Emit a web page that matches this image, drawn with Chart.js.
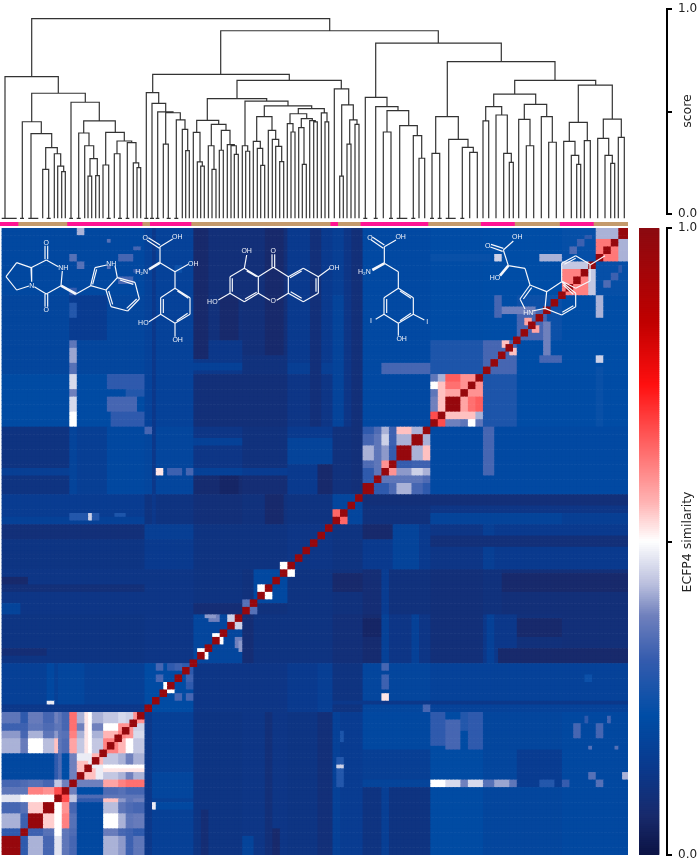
<!DOCTYPE html>
<html>
<head>
<meta charset="utf-8">
<style>
  html, body { margin: 0; padding: 0; background: #fff; }
  #page { position: relative; width: 699px; height: 864px; overflow: hidden; }
  canvas { display: block; filter: blur(0.3px); }
</style>
<script src="https://cdn.jsdelivr.net/npm/chart.js@4"></script>
</head>
<body>
<div id="page">
  <div style="position:absolute;left:0px;top:0px"><canvas id="dendroChart" width="628" height="219"></canvas></div>
  <div style="position:absolute;left:0px;top:222px"><canvas id="stripChart" width="628" height="4"></canvas></div>
  <div style="position:absolute;left:0px;top:228px"><canvas id="heatChart" width="628" height="627"></canvas></div>
  <div style="position:absolute;left:639px;top:0px"><canvas id="scoreAxis" width="60" height="225"></canvas></div>
  <div style="position:absolute;left:639px;top:219px"><canvas id="colorbar" width="60" height="645"></canvas></div>
</div>
<script>
// ---- data ----
const leafCount = 167;
const LEAF = -0.021; // leaves hang a little under score 0

// [left x, right x, height, left child height, right child height], x along the heatmap width
const dendroLinks = [
  [31.7,329.7,.953,.670,.894],[220.7,438.3,.894,.681,.834],
  [5,58.3,.670,LEAF,.589],[31.7,85.3,.589,.450,.545],[22.3,41.3,.450,LEAF,.392],[31,51.7,.392,LEAF,.324],
  [45.7,57.3,.324,.218,.294],[42.7,48.7,.218,LEAF,LEAF],[54.3,60.7,.294,LEAF,.234],[57.7,63.7,.234,LEAF,.207],
  [61.7,65.3,.207,LEAF,LEAF],[71,99.3,.545,LEAF,.454],[83.7,115.3,.454,.395,.398],[78.7,89,.395,LEAF,.333],
  [84.7,93.7,.333,LEAF,.270],[90,97.3,.270,.185,.187],[88,91.7,.185,LEAF,LEAF],[95.7,99.3,.187,LEAF,LEAF],
  [105.7,124.3,.398,.239,.356],[103,108.7,.239,LEAF,LEAF],[117,131.7,.356,.294,.348],[114.3,120,.294,LEAF,LEAF],
  [127.3,136,.348,LEAF,.249],[133.3,138.7,.249,LEAF,.226],[137,140.7,.226,LEAF,LEAF],
  [152.7,289.3,.681,.592,.652],[146.3,158.7,.592,LEAF,.540],[152,165.7,.540,LEAF,.498],[157.7,173,.498,LEAF,.494],
  [165.7,180.3,.494,.341,.459],[163.3,168.3,.341,LEAF,LEAF],[176.3,185,.459,LEAF,.413],[182.3,187.7,.413,LEAF,.309],
  [185.7,189.3,.309,LEAF,LEAF],[237,341.3,.652,.563,.610],[207.3,266.7,.563,.457,.551],[196.7,218.7,.457,.398,.437],
  [193.3,200,.398,LEAF,.254],[197.3,202.3,.254,LEAF,.234],[200.7,204.3,.234,LEAF,LEAF],[211.3,226,.437,.333,.408],
  [208.3,214,.333,LEAF,.218],[212,216,.218,LEAF,LEAF],[221.3,230,.408,.311,.338],[219.3,223.3,.311,LEAF,LEAF],
  [227.3,234.3,.338,LEAF,.333],[231,236.3,.333,LEAF,.291],[234.3,238.3,.291,LEAF,LEAF],[245,288,.551,.333,.527],
  [242.3,247.7,.333,LEAF,.306],[245.7,249.7,.306,LEAF,LEAF],[264.3,311.7,.527,.475,.514],[256.7,272,.475,.354,.408],
  [253.3,260.3,.354,LEAF,.320],[257.3,262.7,.320,LEAF,.237],[260.7,264.7,.237,LEAF,LEAF],[268.3,275.7,.408,LEAF,.364],
  [272.3,278.7,.364,LEAF,.330],[275.7,281.7,.330,LEAF,.255],[279.7,283.7,.255,LEAF,LEAF],[298.3,324.3,.514,.489,.493],
  [290,306.7,.489,.441,.465],[287.3,293,.441,LEAF,.400],[291,295,.400,LEAF,LEAF],[301.3,312.3,.465,.421,.455],
  [298.7,304,.421,LEAF,.242],[302.3,306.3,.242,LEAF,LEAF],[309.7,315.3,.455,LEAF,.449],[313.7,317.3,.449,LEAF,LEAF],
  [321.3,327,.493,LEAF,.449],[325,328.7,.449,LEAF,LEAF],[334.3,348.7,.610,LEAF,.532],[341.7,353.3,.532,.185,.459],
  [339.7,343.3,.185,LEAF,LEAF],[349.7,357,.459,.341,.437],[347,351,.341,LEAF,LEAF],[355,359,.437,LEAF,LEAF],
  [375.7,501.3,.834,.569,.743],[365.3,387,.569,LEAF,.524],[375.7,398,.524,LEAF,.504],[387,408.7,.504,.400,.431],
  [383.3,391,.400,LEAF,LEAF],[399.7,417.3,.431,LEAF,.382],[413.3,421.7,.382,LEAF,.272],[419,424.7,.272,LEAF,LEAF],
  [447.3,555,.743,.475,.652],[435.7,458.3,.475,.296,.364],[432,439.7,.296,LEAF,LEAF],[448.7,468,.364,LEAF,.325],
  [462.3,473.3,.325,LEAF,.301],[469.7,477.3,.301,LEAF,LEAF],[514.7,595.7,.652,.585,.629],[493.7,535.7,.585,.524,.535],
  [485.7,501.7,.524,.454,.483],[483,488.7,.454,LEAF,LEAF],[496,507.3,.483,LEAF,.296],[503.7,511.3,.296,LEAF,.252],
  [509.3,513.3,.252,LEAF,LEAF],[524.3,546.7,.535,.462,.475],[518.7,530,.462,LEAF,.333],[526.3,533.7,.333,LEAF,LEAF],
  [541.3,552.3,.475,LEAF,.350],[548.7,556.3,.350,LEAF,LEAF],[578.3,612.3,.629,.447,.463],[569.3,587.3,.447,.354,.358],
  [563.7,575,.354,LEAF,.286],[571.3,578.7,.286,LEAF,.242],[576.7,580.7,.242,LEAF,LEAF],[584.3,590.3,.358,LEAF,LEAF],
  [603.3,621.3,.463,.369,.374],[597.7,608.7,.369,LEAF,.286],[605,612.3,.286,LEAF,.247],[610.7,614.7,.247,LEAF,LEAF],
  [618.3,624.3,.374,LEAF,LEAF]
];
// groups that merge at zero height, seen as flat feet under the tree
const flatFeet = [
  [1.7,16.7],[20,24],[28.3,38.3],[46.7,50.7],[69.3,73],[76.7,80.7],[106.7,110.7],[118,122],[125.7,129.3],
  [144.3,148.3],[150,154],[155.7,159.3],[166.7,170.7],[174.3,178.3],[363.3,367.3],[373.7,377.7],[389,393],
  [396.7,407.3],[411.3,415.3],[430,434],[437.7,441.7],[445.7,455.7],[460.3,464.3]
];

// class strip along the leaves: [first leaf, end leaf, class]
const classRuns = [[0,5,0],[5,18,1],[18,38,0],[38,40,1],[40,51,0],[51,88,1],[88,90,0],[90,96,1],
  [96,114,0],[114,128,1],[128,137,0],[137,149,1],[149,158,0],[158,167,1]];
const classColors = ['#ff1493', '#c49a6c'];

// similarity is symmetric: [col from, col to, row from, row to, value], rows counted from the bottom
const simBackground = 0.12;
const simBlocks = [
  // bottom cluster against all the others
  [38,40,0,38,.13],[40,51,0,38,.165],[40,51,15,22,.19],[41,51,12,14,.2],[40,41,12,14,.48],
  [51,64,0,38,.115],[64,76,0,38,.12],[64,67,0,5,.18],[76,84,0,38,.115],[84,88,0,38,.09],
  [88,90,0,38,.17],[90,96,0,38,.15],[89,91,18,26,.28],[89,91,23,24,.45],[90,91,30,33,.27],
  [96,114,28,38,.2],[96,114,19,28,.16],[96,114,0,19,.11],[101,103,0,28,.16],[96,114,18,20,.18],
  [114,128,0,38,.21],[128,149,0,38,.19],[137,149,18,28,.15],[149,167,0,38,.2],
  [114,118,29,38,.3],[118,122,28,36,.33],[122,124,33,38,.28],[124,128,28,38,.3],
  [114,118,18,20,.5],[118,122,18,20,.46],[122,124,18,20,.38],[124,128,18,20,.46],[128,131,18,20,.35],
  [131,135,18,20,.41],[135,137,18,20,.36],[143,147,18,20,.28],[149,151,18,20,.31],
  [152,154,31,35,.33],[155,156,35,37,.3],[158,160,31,35,.33],[161,162,35,37,.33],[156,157,28,29,.35],[163,164,28,29,.35],
  [156,158,20,22,.35],[158,160,18,20,.35],[165,167,20,22,.42],
  [72,74,0,7,.06],[70,72,0,38,.09],[53,55,0,12,.08],
  // row 38-51
  [51,76,38,51,.12],[76,84,38,51,.14],[84,88,38,51,.16],[88,96,38,51,.11],
  [96,114,38,51,.19],[114,167,38,51,.175],[88,167,40,41,.13],
  [101,103,49,51,.33],[101,103,44,48,.32],[101,103,41,43,.52],[112,114,38,40,.33],[155,157,46,48,.24],
  [38,51,38,51,.21],[41,43,49,51,.33],[44,50,49,51,.3],[49,51,46,48,.32],[41,43,46,48,.33],[43,46,43,46,.5],
  [46,48,41,43,.33],[49,51,41,43,.33],
  // row 51-64
  [51,64,51,64,.19],[64,67,51,64,.08],[67,88,51,64,.11],[88,96,51,64,.09],[96,101,51,64,.07],[101,103,51,64,.17],
  [103,114,51,64,.12],[109,111,51,64,.17],[114,128,51,64,.09],[128,137,51,64,.13],[129,131,51,64,.17],
  [137,149,51,64,.095],[149,167,51,64,.09],[132,167,51,55,.06],[137,149,58,63,.06],[96,101,58,63,.05],
  [55,58,62,64,.38],[61,64,60,64,.45],[63,64,54,57,.4],[52,55,52,55,.5],[56,58,56,59,.5],
  // row 64-76
  [64,67,64,67,.11],[67,76,67,76,.2],[64,67,67,76,.1],[76,88,64,76,.11],[88,96,64,76,.1],[88,96,70,75,.06],[96,101,64,76,.08],
  [101,103,64,76,.15],[103,114,64,76,.1],[114,128,64,76,.09],[128,133,64,76,.1],[133,167,64,76,.09],[133,167,70,75,.06],
  // row 76-88
  [76,88,76,88,.12],[88,96,76,88,.11],[96,114,76,88,.14],[104,111,76,88,.18],[114,128,76,88,.12],
  [128,131,76,88,.16],[131,167,76,88,.14],[96,104,84,88,.06],[114,167,82,85,.09],
  // row 88-96
  [88,96,88,96,.19],[96,114,88,96,.1],[114,167,88,96,.12],[114,149,88,91,.18],[149,167,88,91,.16],[96,167,93,96,.09],
  // row 96-114
  [114,128,96,114,.21],[128,149,96,114,.2],[149,158,96,114,.15],[158,161,96,114,.2],[161,167,96,114,.15],
  [129,131,101,114,.3],[129,131,104,106,.36],[129,131,96,99,.24],
  // row 114-128
  [128,137,114,128,.32],[137,149,114,128,.23],[149,167,114,128,.21],[141,147,114,118,.3],[143,147,121,125,.27],
  // row 128-137
  [96,114,114,167,.205],[101,114,128,131,.33],[114,128,128,137,.27],[114,128,137,167,.215],
  [128,137,128,137,.33],[137,149,128,137,.24],[149,167,128,137,.22],[143,145,131,133,.36],[145,149,131,133,.27],
  [158,160,131,133,.47],[149,151,133,143,.4],
  // row 137-167
  [137,149,137,149,.24],[135,145,135,145,.33],[149,158,137,149,.23],[158,167,137,149,.21],[158,160,143,151,.38],
  [128,137,137,167,.22],[137,149,149,167,.22],[133,142,144,146,.38],[131,133,143,149,.33],[131,133,158,160,.45],
  [114,130,158,160,.235],[143,151,158,160,.42],[149,156,156,158,.45],[158,167,149,158,.22],
  [149,158,158,167,.23],[151,153,160,162,.34],[153,155,162,164,.32],[155,157,164,165,.3],
  [149,156,149,156,.62],[156,158,149,156,.44],
  [158,167,158,167,.42],[158,164,158,164,.63],
  // small pale neighbours of the diagonal
  [139,141,141,143,.58],[141,143,139,141,.58],[133,135,135,137,.6],[135,137,133,135,.55],
  [88,90,90,92,.65],[74,76,76,78,.5],[68,70,70,72,.5],[64,66,66,68,.35]
];

// bottom cluster, one triangle row per group: groups split at bigEdges
const bigEdges = [0,5,7,11,14,16,18,20,27,31,33,35,38];
const bigSelf = [.97,.97,.97,.62,.6,.6,.6,.48,.62,.62,.6,.6];
const bigTable = [
  [.3,.42,.33,.47,.36,.33,.2,.42,.4,.32,.36],
  [.32,.35,.5,.36,.34,.2,.37,.33,.32,.3],
  [.54,.5,.62,.35,.2,.5,.42,.36,.37],
  [.5,.6,.33,.2,.43,.36,.34,.33],
  [.68,.44,.3,.55,.4,.36,.38],
  [.38,.22,.34,.35,.33,.33],
  [.38,.58,.62,.64,.64],
  [.44,.42,.38,.42],
  [.56,.5,.44],
  [.6,.46],
  [.45]
];
const bigStripes = [[27,38,22,24,.52],[20,27,15,16,.34],[23,24,27,38,.5],[15,16,27,38,.36],[24,27,24,27,.56],[22,25,20,23,.55]];

const midEdges = [96,99,101,103,105,109,112,114];
const midSelf = [.97,.5,.5,.5,.97,.5,.5];
const midTable = [
  [.3,.3,.34,.42,.33,.3],
  [.36,.36,.36,.36,.34],
  [.6,.4,.45,.42],
  [.31,.32,.32],
  [.42,.55],
  [.42]
];

const upperEdges = [114,116,118,122,124,126,128];
const upperSelf = [.97,.97,.97,.97,.97,.97];
const upperTable = [
  [.68,.38,.36,.5,.36],
  [.55,.55,.55,.42],
  [.58,.64,.66],
  [.6,.6],
  [.6]
];

// runs of identical compounds along the diagonal, these show as dark red squares
const identicalRuns = [5,2,4,3,2,2,2,2,2,2,2,2,2,2,2,2,
  2,2,2,2,2,2,2,2,2,2,2,2,2,2,2,2,2,2,2,2,2,2,2,2,2,2,2,2,2,
  3,2,2,2,4,3,2,2,2,4,2,2,2,
  2,2,2,2,2,2,2,2,2,2,2,2,2,2,2,2,2,2,3];

// colour scale of the similarity bar: [value, r, g, b]
const colorStops = [
  [0,12,20,70],[.06,24,42,108],[.14,10,58,142],[.22,0,77,166],[.31,53,92,174],[.38,111,128,189],
  [.43,185,190,221],[.5,255,255,255],[.56,255,181,181],[.75,255,16,16],[.85,192,0,0],[1,139,10,16]
];

const axisTicks = [0, 0.5, 1];
const axisLabels = ['0.0', '', '1.0'];

// molecule sketches, segments [x1,y1,x2,y2] in the units of their own sketch
const moleculeSketches = [
  { origin: [0,225],
    bonds: [[135,62,135,103],[143,62,143,103],[139,105,175,125],[187,138,183,182],[183,182,139,207],[139,207,103,185],
      [93,128,95,170],[139,105,93,128],[93,128,50,113],[50,113,18,155],[18,155,50,195],[50,195,87,183],
      [135,207,135,245],[143,207,143,245],[228,207,272,182],[272,182,285,128],[278,178,290,133],[285,128,320,120],
      [345,122,352,158],[352,158,318,195],[318,195,272,182],[352,158,405,172],[405,172,418,222],[418,222,383,258],
      [383,258,333,245],[333,245,318,195],[360,165,400,178],[410,222,380,250],[338,238,326,198]],
    wedges: [[183,182,228,207]],
    labels: [['O',139,55],['NH',190,128],['N',95,182],['O',139,255],['NH',334,118]] },
  { origin: [0,225],
    bonds: [[445,38,480,60],[441,46,478,70],[480,65,518,42],[480,65,480,113],[480,113,525,140],[525,140,565,118],
      [525,140,525,190],[525,190,570,218],[570,218,570,268],[570,268,525,295],[525,295,482,268],[482,268,482,218],
      [482,218,525,190],[482,268,447,290],[525,295,525,335],[490,222,490,264],[532,198,565,220],[530,287,563,265]],
    wedges: [[480,113,447,133]],
    labels: [['O',436,38],['OH',532,35],['H₂N',425,140],['OH',580,117],['HO',430,295],['OH',533,346]] },
  { origin: [0,225],
    bonds: [[816,88,816,127],[824,88,824,127],[733,130,740,90],[733,130,690,155],[690,155,690,205],[690,205,733,230],
      [733,230,775,205],[775,205,775,155],[775,155,733,130],[775,155,820,127],[820,127,865,155],[865,155,865,205],
      [865,205,910,230],[910,230,955,205],[955,205,955,155],[955,155,910,130],[910,130,865,155],[775,205,810,226],
      [830,226,865,205],[690,205,655,225],[697,160,697,200],[735,222,770,202],[740,138,770,155],[872,200,905,220],
      [948,200,948,160],[905,138,870,158],[955,155,990,130]],
    wedges: [],
    labels: [['O',820,77],['OH',740,78],['HO',637,232],['O',820,228],['OH',1003,128]] },
  { origin: [315,225],
    bonds: [[172,36,208,60],[168,44,205,70],[208,65,243,45],[208,65,208,115],[208,115,250,140],[250,140,250,190],
      [250,190,295,218],[295,218,295,268],[295,268,250,295],[250,295,207,268],[207,268,207,218],[207,218,250,190],
      [207,268,182,283],[295,268,328,285],[250,295,250,332],[215,222,215,264],[255,198,288,220],[255,287,288,265]],
    wedges: [[208,115,172,135]],
    labels: [['O',165,40],['OH',257,36],['H₂N',148,140],['I',168,288],['I',337,290],['OH',260,343]] },
  { origin: [315,225],
    bonds: [[528,58,565,70],[526,66,563,79],[565,75,595,48],[565,75,580,122],[580,122,630,130],[630,130,645,180],
      [645,180,615,222],[650,188,625,222],[615,222,630,252],[652,258,690,250],[690,250,695,200],[695,200,645,180],
      [695,200,740,170],[740,170,782,205],[782,205,782,245],[782,245,740,270],[740,270,690,250],[745,180,775,208],
      [775,242,742,262],[782,92,825,118],[825,118,825,168],[825,168,782,190],[782,190,740,168],[740,168,740,115],
      [740,115,782,92],[748,118,782,100],[825,120,870,92]],
    wedges: [[580,122,555,152]],
    labels: [['O',518,63],['OH',607,36],['HO',540,160],['HN',640,264]] }
];

// ---- build the matrix ----
const sim = [];
for (let r = 0; r < leafCount; r++) sim.push(new Array(leafCount).fill(simBackground));

function paint(c0, c1, r0, r1, v) {
  for (let c = c0; c < c1; c++) {
    for (let r = r0; r < r1; r++) {
      sim[r][c] = v;
      sim[c][r] = v;
    }
  }
}

function paintCluster(edges, self, table) {
  self.forEach((v, i) => paint(edges[i], edges[i + 1], edges[i], edges[i + 1], v));
  table.forEach((row, i) => {
    row.forEach((v, j) => paint(edges[i + 1 + j], edges[i + 2 + j], edges[i], edges[i + 1], v));
  });
}

simBlocks.forEach(b => paint(b[0], b[1], b[2], b[3], b[4]));
paintCluster(midEdges, midSelf, midTable);
paintCluster(upperEdges, upperSelf, upperTable);
paintCluster(bigEdges, bigSelf, bigTable);
bigStripes.forEach(b => paint(b[0], b[1], b[2], b[3], b[4]));

let runStart = 0;
identicalRuns.forEach(w => {
  paint(runStart, runStart + w, runStart, runStart + w, 0.97);
  runStart += w;
});

function simColor(v) {
  let i = 1;
  while (i < colorStops.length - 1 && colorStops[i][0] < v) i++;
  const a = colorStops[i - 1], b = colorStops[i];
  const t = Math.min(1, Math.max(0, (v - a[0]) / (b[0] - a[0])));
  const ch = k => Math.round(a[k] + (b[k] - a[k]) * t);
  return `rgb(${ch(1)},${ch(2)},${ch(3)})`;
}

// ---- charts ----
Chart.defaults.animation = false;
Chart.defaults.responsive = false;
Chart.defaults.events = [];
Chart.defaults.plugins.legend.display = false;
Chart.defaults.plugins.tooltip.enabled = false;
Chart.defaults.font.family = '"DejaVu Sans"';

// dendrogram
const treePoints = [];
dendroLinks.forEach(l => {
  treePoints.push({x: l[0], y: l[3]}, {x: l[0], y: l[2]}, {x: l[1], y: l[2]}, {x: l[1], y: l[4]}, {x: NaN, y: NaN});
});
flatFeet.forEach(f => {
  treePoints.push({x: f[0], y: LEAF}, {x: f[1], y: LEAF}, {x: NaN, y: NaN});
});

new Chart(document.getElementById('dendroChart'), {
  type: 'scatter',
  data: { datasets: [{ data: treePoints, showLine: true, borderColor: '#333', borderWidth: 1.2, pointRadius: 0, clip: false }] },
  options: {
    layout: { padding: { top: 9 } },
    scales: {
      x: { type: 'linear', min: 0, max: 628, display: false },
      y: { type: 'linear', min: -0.0244, max: 1, display: false }
    }
  }
});

// class strip
const leafIds = Array.from({length: leafCount}, (_, i) => i);
const leafColors = [];
classRuns.forEach(run => {
  for (let i = run[0]; i < run[1]; i++) leafColors[i] = classColors[run[2]];
});
const cellWidth = 628 / leafCount + 0.25;

new Chart(document.getElementById('stripChart'), {
  type: 'bar',
  data: { labels: leafIds, datasets: [{ data: leafIds.map(() => 1), backgroundColor: leafColors, barThickness: cellWidth }] },
  options: { scales: { x: { display: false }, y: { display: false, min: 0, max: 1 } } }
});

// heatmap, rows stacked from the bottom, with the molecules over it
function moleculeDataset(key, width) {
  const pts = [];
  moleculeSketches.forEach(m => {
    m[key].forEach(s => {
      pts.push({x: m.origin[0] + s[0] / 3, y: m.origin[1] + s[1] / 3},
               {x: m.origin[0] + s[2] / 3, y: m.origin[1] + s[3] / 3},
               {x: NaN, y: NaN});
    });
  });
  return { type: 'scatter', data: pts, showLine: true, borderColor: '#f4f6fb', borderWidth: width, pointRadius: 0,
           xAxisID: 'mx', yAxisID: 'my' };
}

const moleculeText = {
  id: 'moleculeText',
  afterDatasetsDraw(chart) {
    const ctx = chart.ctx;
    ctx.save();
    ctx.fillStyle = '#eef1f8';
    ctx.font = '7px "Liberation Sans"';
    ctx.textAlign = 'center';
    ctx.textBaseline = 'middle';
    moleculeSketches.forEach(m => {
      m.labels.forEach(l => {
        const px = chart.scales.mx.getPixelForValue(m.origin[0] + l[1] / 3);
        const py = chart.scales.my.getPixelForValue(m.origin[1] + l[2] / 3);
        ctx.fillText(l[0], px, py);
      });
    });
    ctx.restore();
  }
};

const rowDatasets = sim.map(row => ({
  data: row.map(() => 1),
  backgroundColor: row.map(simColor),
  barThickness: cellWidth,
  inflateAmount: 0.3,
  stack: 'rows'
}));

new Chart(document.getElementById('heatChart'), {
  type: 'bar',
  data: { labels: leafIds, datasets: [moleculeDataset('bonds', 1.2), moleculeDataset('wedges', 2.6)].concat(rowDatasets) },
  options: {
    scales: {
      x: { display: false, stacked: true },
      y: { display: false, stacked: true, min: 0, max: leafCount },
      mx: { axis: 'x', type: 'linear', display: false, min: 0, max: 628, offset: false },
      my: { axis: 'y', type: 'linear', display: false, min: 228, max: 855, reverse: true, offset: false }
    }
  },
  plugins: [moleculeText]
});

// axes on the right: same bracket style for both
function bracketAxis() {
  return {
    type: 'linear',
    position: 'right',
    min: 0,
    max: 1,
    offset: false,
    afterFit(scale) {
      scale.width = 32;
      scale.paddingTop = 0;
      scale.paddingBottom = 0;
    },
    afterBuildTicks(scale) { scale.ticks = axisTicks.map(v => ({value: v})); },
    border: { display: true, color: '#000', width: 2 },
    grid: { offset: false, drawOnChartArea: false, color: '#000', lineWidth: 2, tickLength: 5, drawTicks: true },
    ticks: {
      color: '#222',
      font: { size: 12 },
      padding: 6,
      autoSkip: false,
      maxRotation: 0,
      callback: value => axisLabels[axisTicks.indexOf(value)]
    }
  };
}

function sideTitle(text, y) {
  return {
    id: 'sideTitle',
    afterDraw(chart) {
      const ctx = chart.ctx;
      ctx.save();
      ctx.translate(49, y);
      ctx.rotate(-Math.PI / 2);
      ctx.fillStyle = '#222';
      ctx.font = '12.5px "DejaVu Sans"';
      ctx.textAlign = 'center';
      ctx.textBaseline = 'middle';
      ctx.fillText(text, 0, 0);
      ctx.restore();
    }
  };
}

new Chart(document.getElementById('scoreAxis'), {
  type: 'scatter',
  data: { datasets: [{ data: [], yAxisID: 'score' }] },
  options: {
    layout: { padding: { top: 9, bottom: 11 } },
    scales: { x: { type: 'linear', display: false, min: 0, max: 1 }, score: bracketAxis() }
  },
  plugins: [sideTitle('score', 111)]
});

// colour bar: thin bars over the value range, reading from the top
const rampLevels = Array.from({length: 314}, (_, i) => 1 - i / 313);

new Chart(document.getElementById('colorbar'), {
  type: 'bar',
  data: {
    labels: rampLevels,
    datasets: [{ data: rampLevels.map(() => 1), backgroundColor: rampLevels.map(simColor), barThickness: 2.4 }]
  },
  options: {
    indexAxis: 'y',
    layout: { padding: { top: 9, bottom: 9 } },
    scales: {
      x: { type: 'linear', display: false, min: 0, max: 1.4 },
      y: { type: 'category', display: false },
      sim: bracketAxis()
    }
  },
  plugins: [sideTitle('ECFP4 similarity', 323)]
});
</script>
</body>
</html>
